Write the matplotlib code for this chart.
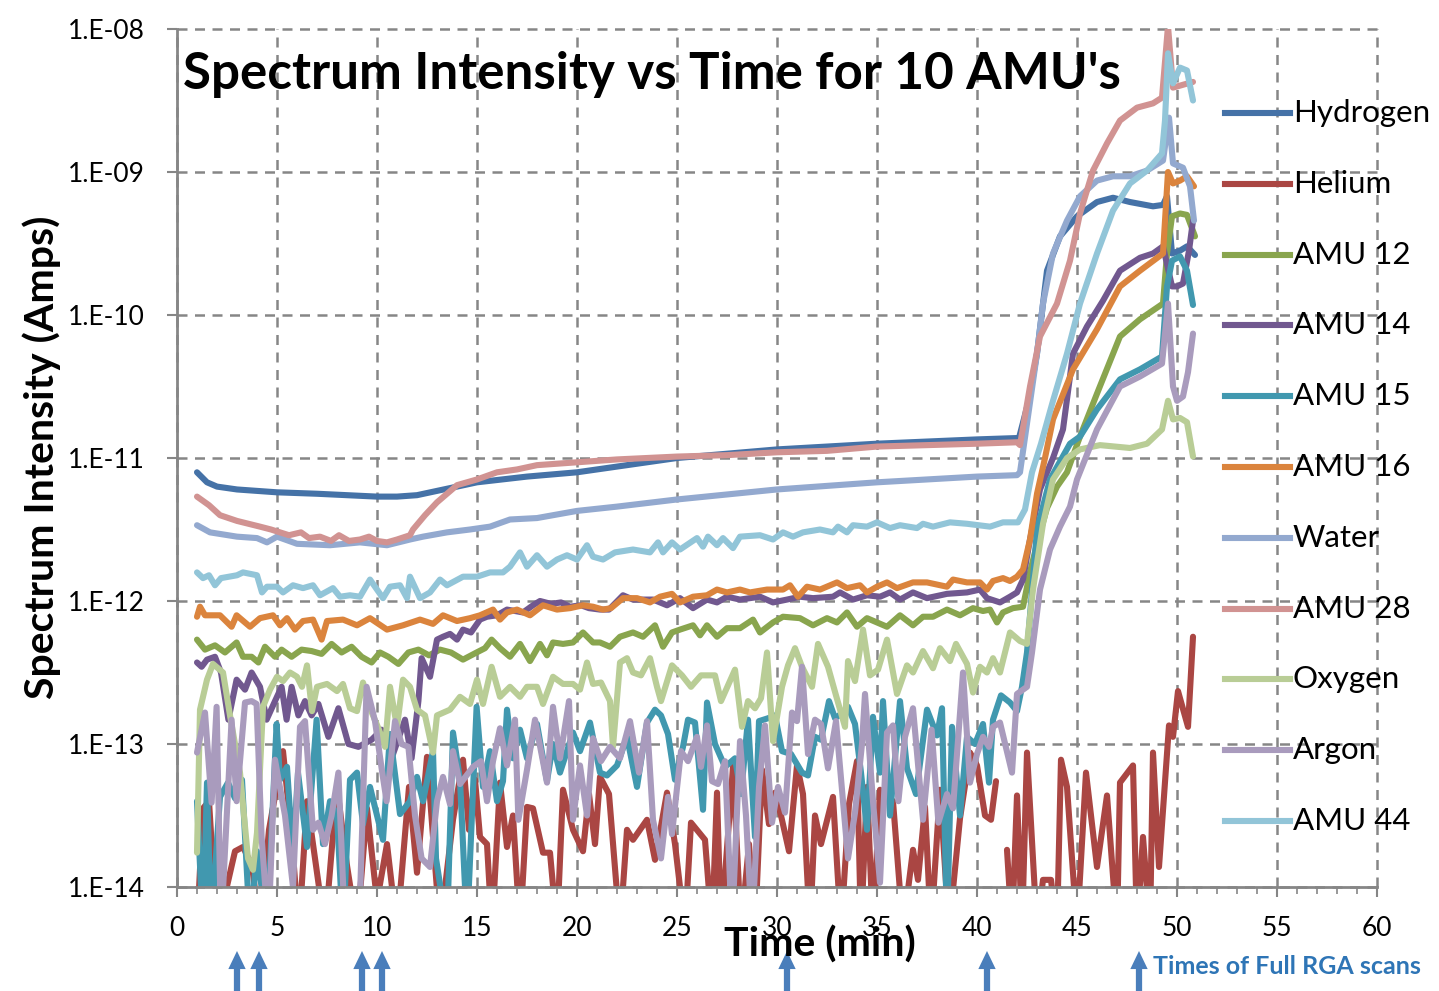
import numpy as np
import matplotlib
matplotlib.use('Agg')
import matplotlib.pyplot as plt
from matplotlib.lines import Line2D
from matplotlib.ticker import FixedLocator, FuncFormatter, MultipleLocator, NullLocator

plt.rcParams['font.family'] = ['Lato', 'DejaVu Sans']

# (time in min, log10 of current in A)
hydrogen = [(1.0, -11.10), (1.5, -11.17), (2, -11.20), (3, -11.22), (5, -11.24), (7, -11.25),
            (10, -11.27), (11, -11.27), (12, -11.26), (13, -11.23), (14, -11.20), (15, -11.17),
            (17.5, -11.13), (20, -11.10), (22, -11.06), (25, -11.00), (30, -10.94), (35, -10.90),
            (40, -10.87), (42.1, -10.86), (42.6, -10.59), (43.0, -10.27), (43.5, -9.69),
            (44.15, -9.45), (45, -9.31), (46, -9.21), (46.8, -9.18), (47.65, -9.21), (48.8, -9.24),
            (49.3, -9.23), (49.5, -9.17), (49.75, -9.57), (50.15, -9.55), (50.5, -9.52), (50.9, -9.58)]

helium = [(1.0, -14.3), (1.3, -13.45), (1.6, -13.4), (2.0, -14.3), (2.9, -13.75), (3.3, -13.72),
          (3.75, -13.85), (4.15, -14.3), (4.6, -13.6), (5.3, -13.05), (5.7, -13.6), (6.1, -14.3),
          (6.5, -13.4), (7.0, -13.9), (7.4, -14.3), (8.0, -13.3), (8.5, -13.85), (9.0, -14.3),
          (9.5, -13.45), (10.0, -14.1), (10.5, -13.7), (11.0, -14.3), (11.6, -13.3), (12.0, -13.9),
          (12.5, -13.09), (13.15, -14.3), (13.8, -13.53), (14.3, -13.11), (14.6, -13.6),
          (14.9, -13.25), (15.15, -13.65), (15.5, -13.7), (15.75, -14.3), (16.15, -13.27),
          (16.5, -13.72), (16.8, -13.5), (17.15, -14.3), (17.5, -13.44), (17.8, -13.45),
          (18.3, -13.76), (18.65, -13.76), (19.0, -14.3), (19.3, -13.32), (19.8, -13.6),
          (20.3, -13.75), (20.6, -13.35), (20.9, -13.7), (21.15, -13.23), (21.6, -13.35),
          (22.15, -14.3), (22.5, -13.6), (22.8, -13.67), (23.5, -13.53), (23.9, -13.81),
          (24.5, -13.34), (24.9, -13.7), (25.4, -14.3), (25.7, -13.55), (26.4, -13.67),
          (26.75, -14.3), (27.0, -13.34), (27.2, -14.3), (27.8, -13.16), (28.2, -14.3),
          (28.6, -13.7), (28.9, -14.3), (29.25, -13.18), (29.6, -13.56), (29.9, -13.34),
          (30.2, -13.5), (30.6, -13.75), (31.0, -13.15), (31.3, -13.35), (31.65, -14.3),
          (31.9, -13.5), (32.2, -13.7), (32.8, -13.37), (33.2, -14.3), (33.6, -13.42),
          (34.0, -13.12), (34.2, -14.3), (34.5, -13.3), (34.8, -14.3), (35.15, -13.32),
          (35.8, -13.4), (36.3, -14.3), (36.8, -13.74), (37.05, -13.95), (37.4, -13.44),
          (37.7, -14.3), (38.15, -13.32), (38.6, -14.3), (39.15, -13.52), (39.65, -13.06),
          (40.0, -13.15), (40.4, -13.5), (40.7, -13.53), (40.95, -13.26), (41.2, np.nan),
          (41.5, -13.74), (41.75, -14.3), (42.0, -13.36), (42.25, -14.3), (42.5, -13.06),
          (43.0, -14.3), (43.3, -13.95), (43.7, -13.95), (44.0, -14.3), (44.2, -13.11),
          (44.5, -13.3), (45.0, -14.3), (45.45, -13.2), (46.0, -13.86), (46.5, -13.36),
          (47.0, -14.3), (47.15, -13.27), (47.8, -13.15), (48.0, -14.3), (48.3, -13.65),
          (48.65, -14.3), (48.8, -13.06), (49.1, -13.86), (49.6, -12.87), (49.8, -12.95),
          (50.05, -12.63), (50.55, -12.88), (50.8, -12.25)]

amu12 = [(1.0, -12.27), (1.4, -12.34), (1.9, -12.31), (2.4, -12.36), (2.98, -12.29), (3.3, -12.39),
         (3.73, -12.39), (4.07, -12.43), (4.4, -12.32), (4.9, -12.39), (5.23, -12.34), (5.73, -12.39),
         (6.23, -12.34), (6.73, -12.35), (7.23, -12.37), (7.73, -12.30), (8.23, -12.36),
         (8.73, -12.32), (9.23, -12.39), (9.73, -12.43), (10.15, -12.36), (10.57, -12.39),
         (11.07, -12.44), (11.57, -12.36), (12.07, -12.34), (12.6, -12.38), (13.15, -12.34),
         (13.7, -12.36), (14.3, -12.41), (14.98, -12.36), (15.4, -12.33), (15.73, -12.27),
         (16.15, -12.33), (16.65, -12.39), (17.15, -12.30), (17.65, -12.42), (18.15, -12.30),
         (18.5, -12.38), (18.8, -12.29), (19.3, -12.30), (19.8, -12.29), (20.3, -12.22),
         (20.8, -12.29), (21.15, -12.29), (21.65, -12.32), (22.15, -12.25), (22.8, -12.22),
         (23.3, -12.25), (23.9, -12.17), (24.3, -12.32), (24.75, -12.22), (25.15, -12.20),
         (25.8, -12.17), (26.15, -12.24), (26.5, -12.17), (27.0, -12.25), (27.5, -12.19),
         (28.15, -12.19), (28.8, -12.13), (29.15, -12.22), (29.8, -12.15), (30.3, -12.11),
         (31.15, -12.12), (31.8, -12.17), (32.5, -12.12), (33.0, -12.15), (33.5, -12.08),
         (34.0, -12.18), (34.5, -12.12), (35.0, -12.15), (35.5, -12.18), (36.15, -12.10),
         (36.8, -12.17), (37.3, -12.11), (37.8, -12.11), (38.5, -12.06), (39.15, -12.10),
         (39.8, -12.05), (40.3, -12.07), (40.65, -12.06), (41.0, -12.15), (41.3, -12.08),
         (41.8, -12.05), (42.3, -12.04), (42.65, -11.80), (43.0, -11.60), (43.5, -11.35),
         (44.0, -11.20), (44.5, -11.10), (45.15, -10.85), (46.0, -10.55), (47.15, -10.15),
         (48.15, -10.03), (49.3, -9.92), (49.5, -9.57), (49.75, -9.31), (50.15, -9.29),
         (50.5, -9.30), (50.9, -9.45)]

amu14 = [(1.0, -12.43), (1.23, -12.46), (1.5, -12.41), (1.9, -12.39), (2.2, -12.50), (2.57, -12.83),
         (2.98, -12.55), (3.4, -12.62), (3.73, -12.50), (4.15, -12.60), (4.48, -12.83), (4.9, -12.70),
         (5.23, -12.60), (5.48, -12.83), (5.73, -12.60), (6.07, -12.80), (6.4, -12.70), (6.73, -12.80),
         (7.07, -12.72), (7.57, -12.95), (8.07, -12.75), (8.57, -13.00), (9.07, -13.02),
         (9.73, -12.97), (10.23, -12.90), (10.57, -13.00), (10.73, -13.10), (11.4, -12.83),
         (11.73, -13.10), (12.07, -12.70), (12.23, -12.40), (12.65, -12.53), (13.0, -12.27),
         (13.3, -12.25), (13.65, -12.23), (14.0, -12.27), (14.3, -12.20), (14.7, -12.22),
         (15.15, -12.13), (15.5, -12.11), (16.0, -12.10), (16.5, -12.06), (17.3, -12.08),
         (17.8, -12.03), (18.15, -12.00), (18.7, -12.02), (19.2, -12.01), (19.65, -12.04),
         (20.2, -12.03), (20.6, -12.05), (21.15, -12.06), (21.6, -12.06), (22.3, -11.96),
         (22.8, -11.99), (23.8, -11.99), (24.5, -12.03), (25.15, -11.98), (25.8, -12.05),
         (26.5, -11.99), (27.0, -12.01), (27.5, -11.97), (28.15, -11.99), (29.15, -11.97),
         (29.8, -12.01), (30.5, -11.99), (31.15, -11.97), (31.8, -11.98), (32.8, -11.97),
         (33.15, -11.94), (33.8, -11.99), (34.5, -11.96), (35.15, -11.97), (35.65, -11.94),
         (36.15, -11.99), (36.8, -11.94), (37.5, -11.98), (38.5, -11.95), (39.5, -11.94),
         (40.15, -11.92), (40.5, -11.98), (41.15, -12.01), (41.65, -11.97), (42.0, -11.94),
         (42.3, -11.85), (42.65, -11.57), (43.15, -11.22), (43.5, -11.10), (43.8, -11.00),
         (44.3, -10.80), (44.8, -10.27), (45.5, -10.08), (46.3, -9.90), (47.15, -9.69),
         (48.15, -9.60), (48.8, -9.57), (49.3, -9.52), (49.75, -9.80), (50.0, -9.80),
         (50.3, -9.78), (50.6, -9.55), (50.8, -9.34)]

amu15 = [(1.0, -13.4), (1.3, -14.3), (1.5, -13.27), (1.7, -14.3), (2.15, -13.37), (2.55, -13.27),
         (2.9, -13.38), (3.25, -13.25), (3.65, -14.3), (4.0, -13.75), (4.5, -14.3), (4.98, -12.86),
         (5.15, -13.25), (5.5, -13.16), (5.8, -13.79), (6.05, -13.2), (6.5, -13.72), (6.98, -12.83),
         (7.3, -13.7), (7.65, -13.4), (8.0, -13.5), (8.3, -14.3), (8.65, -13.25), (9.0, -13.2),
         (9.3, -13.56), (9.65, -13.3), (10.3, -13.67), (10.65, -12.93), (11.15, -13.49),
         (11.65, -13.4), (12.0, -13.23), (12.3, -13.4), (12.8, -13.05), (12.95, -13.8),
         (13.5, -14.3), (13.8, -12.92), (14.15, -13.25), (14.5, -14.3), (14.98, -12.74),
         (15.3, -13.3), (15.65, -13.05), (16.0, -13.4), (16.3, -13.26), (16.5, -12.76),
         (16.8, -13.1), (17.15, -12.9), (17.5, -13.1), (18.0, -12.86), (18.5, -13.26),
         (18.8, -13.0), (19.15, -13.2), (19.8, -12.92), (20.15, -13.05), (20.65, -12.85),
         (21.15, -13.2), (21.5, -13.22), (22.0, -13.15), (22.5, -12.95), (23.0, -13.3),
         (23.5, -12.85), (23.9, -12.76), (24.2, -12.8), (24.55, -12.93), (24.9, -13.25),
         (25.3, -13.02), (25.55, -12.83), (25.9, -12.85), (26.3, -13.46), (26.5, -12.71),
         (26.9, -13.0), (27.4, -13.16), (27.9, -13.1), (28.2, -13.35), (28.55, -12.83),
         (28.9, -13.65), (29.1, -12.84), (29.55, -12.82), (29.9, -12.8), (30.25, -13.05),
         (30.7, -13.07), (31.25, -13.2), (31.55, -13.22), (31.9, -12.95), (32.2, -12.97),
         (32.6, -12.7), (32.9, -12.82), (33.2, -12.79), (33.55, -12.74), (33.9, -12.86),
         (34.2, -13.2), (34.5, -13.6), (34.8, -12.81), (35.15, -13.2), (35.3, -12.7),
         (35.65, -13.5), (36.15, -12.7), (36.5, -13.17), (36.95, -13.35), (37.5, -12.76),
         (38.0, -12.94), (38.25, -12.75), (38.5, -14.3), (38.75, -12.88), (39.15, -13.5),
         (39.5, -12.95), (39.9, -13.0), (40.3, -12.86), (40.6, -13.27), (40.8, -12.83),
         (41.2, -12.66), (41.65, -12.71), (42.0, -12.77), (42.25, -12.6), (42.5, -12.36),
         (43.0, -11.5), (43.65, -11.15), (44.65, -10.9), (45.15, -10.85), (46.0, -10.66),
         (47.15, -10.45), (48.15, -10.38), (49.25, -10.29), (49.5, -9.8), (49.75, -9.62),
         (50.15, -9.59), (50.5, -9.69), (50.8, -9.93)]

amu16 = [(1.0, -12.11), (1.15, -12.04), (1.4, -12.10), (2.15, -12.10), (2.73, -12.18), (2.98, -12.10),
         (3.65, -12.18), (4.15, -12.12), (4.8, -12.10), (5.15, -12.17), (5.5, -12.12), (5.9, -12.20),
         (6.3, -12.14), (6.8, -12.13), (7.23, -12.27), (7.5, -12.14), (8.3, -12.13), (9.0, -12.17),
         (9.65, -12.12), (10.5, -12.20), (11.3, -12.17), (12.15, -12.13), (12.8, -12.16),
         (13.3, -12.10), (14.0, -12.14), (14.65, -12.12), (15.15, -12.10), (15.8, -12.06),
         (16.15, -12.13), (16.5, -12.08), (17.0, -12.06), (17.65, -12.10), (18.3, -12.03),
         (19.0, -12.06), (19.65, -12.05), (20.3, -12.03), (20.8, -12.04), (21.3, -12.06),
         (21.7, -12.05), (22.3, -11.98), (23.0, -11.98), (23.65, -12.01), (24.15, -11.97),
         (24.75, -11.95), (25.15, -12.01), (25.8, -11.97), (26.5, -11.96), (27.0, -11.92),
         (27.5, -11.94), (28.15, -11.92), (28.65, -11.94), (29.5, -11.92), (30.3, -11.92),
         (30.65, -11.89), (31.05, -11.97), (31.5, -11.90), (32.15, -11.92), (33.0, -11.87),
         (33.5, -11.91), (34.15, -11.89), (34.5, -11.94), (35.0, -11.90), (35.5, -11.87),
         (36.0, -11.91), (36.8, -11.87), (37.5, -11.87), (38.5, -11.90), (38.8, -11.85),
         (39.5, -11.87), (40.15, -11.87), (40.5, -11.92), (40.8, -11.86), (41.3, -11.84),
         (41.65, -11.86), (42.0, -11.83), (42.3, -11.78), (42.65, -11.57), (43.0, -11.25),
         (43.4, -11.00), (43.8, -10.73), (44.8, -10.38), (46.0, -10.10), (47.15, -9.80),
         (48.15, -9.69), (49.3, -9.57), (49.55, -9.00), (49.8, -9.08), (50.15, -9.06),
         (50.5, -9.03), (50.85, -9.10)]

water = [(1.0, -11.47), (1.65, -11.52), (3.0, -11.55), (4.0, -11.56), (4.5, -11.59), (5.0, -11.55),
         (6.0, -11.60), (7.65, -11.61), (9.15, -11.59), (10.5, -11.61), (11.65, -11.57),
         (12.3, -11.55), (13.5, -11.52), (14.65, -11.50), (15.65, -11.48), (16.65, -11.43),
         (18.0, -11.42), (20.0, -11.37), (22.0, -11.34), (25.0, -11.29), (30.0, -11.22),
         (35.0, -11.17), (40.0, -11.13), (42.0, -11.12), (42.15, -11.10), (43.0, -10.27),
         (43.3, -9.92), (43.8, -9.57), (44.5, -9.34), (45.15, -9.17), (46.0, -9.06),
         (46.8, -9.03), (47.65, -9.03), (48.5, -8.99), (49.3, -8.92), (49.6, -8.62),
         (49.8, -8.94), (50.3, -8.97), (50.65, -9.10), (50.85, -9.34)]

amu28 = [(1.0, -11.27), (1.6, -11.33), (2.15, -11.40), (3.0, -11.44), (4.15, -11.48), (4.7, -11.50),
         (5.15, -11.52), (5.6, -11.54), (6.2, -11.52), (6.6, -11.56), (7.15, -11.55), (7.7, -11.58),
         (8.1, -11.54), (8.6, -11.58), (9.15, -11.57), (9.6, -11.55), (10.0, -11.58),
         (10.5, -11.59), (11.0, -11.57), (11.65, -11.54), (11.8, -11.50), (12.4, -11.40),
         (13.0, -11.31), (14.0, -11.19), (15.0, -11.15), (16.0, -11.10), (17.0, -11.08),
         (18.0, -11.05), (19.0, -11.04), (20.0, -11.03), (22.0, -11.01), (25.0, -10.99),
         (27.5, -10.98), (30.0, -10.96), (32.5, -10.95), (35.0, -10.92), (37.5, -10.91),
         (40.0, -10.90), (42.0, -10.89), (42.15, -10.91), (42.65, -10.50), (43.15, -10.15),
         (44.0, -9.92), (44.65, -9.62), (45.15, -9.29), (45.8, -8.99), (46.5, -8.80),
         (47.15, -8.64), (48.0, -8.55), (48.8, -8.52), (49.25, -8.48), (49.55, -7.98),
         (49.8, -8.41), (50.8, -8.37)]

oxygen = [(1.0, -13.76), (1.15, -12.76), (1.5, -12.55), (1.8, -12.44), (2.3, -12.50), (2.65, -12.80),
          (3.15, -13.20), (3.55, -13.80), (3.8, -13.88), (4.0, -13.62), (4.3, -12.74), (4.65, -12.62),
          (5.0, -12.53), (5.3, -12.56), (5.65, -12.50), (6.0, -12.53), (6.25, -12.60), (6.5, -12.45),
          (6.75, -12.77), (7.0, -12.60), (7.5, -12.58), (8.0, -12.63), (8.3, -12.58), (8.65, -12.75),
          (9.0, -12.77), (9.3, -12.57), (9.65, -12.75), (10.1, -12.90), (10.4, -13.02),
          (10.65, -12.60), (11.0, -12.88), (11.3, -12.55), (11.65, -12.60), (12.0, -12.76),
          (12.4, -12.80), (12.8, -13.06), (13.0, -12.80), (13.65, -12.76), (14.15, -12.67),
          (14.65, -12.72), (15.0, -12.55), (15.3, -12.72), (15.73, -12.46), (16.15, -12.67),
          (16.65, -12.60), (17.15, -12.67), (17.5, -12.60), (18.0, -12.60), (18.3, -12.72),
          (18.8, -12.53), (19.3, -12.58), (19.8, -12.58), (20.15, -12.62), (20.5, -12.43),
          (20.8, -12.58), (21.2, -12.57), (21.65, -12.70), (21.8, -13.02), (22.15, -12.43),
          (22.5, -12.40), (22.8, -12.50), (23.2, -12.52), (23.65, -12.40), (24.0, -12.60),
          (24.2, -12.70), (24.75, -12.45), (25.25, -12.52), (25.7, -12.60), (26.2, -12.52),
          (26.9, -12.52), (27.2, -12.70), (27.9, -12.48), (28.25, -12.88), (28.55, -12.70),
          (28.9, -12.75), (29.2, -12.68), (29.5, -12.36), (29.8, -12.98), (30.25, -12.60),
          (30.55, -12.45), (30.9, -12.33), (31.25, -12.46), (31.75, -12.60), (32.05, -12.30),
          (32.55, -12.46), (32.95, -12.66), (33.4, -12.88), (33.55, -12.42), (33.9, -12.56),
          (34.3, -12.20), (34.65, -12.52), (35.05, -12.48), (35.5, -12.27), (36.0, -12.65),
          (36.5, -12.45), (36.8, -12.50), (37.3, -12.35), (37.8, -12.47), (38.15, -12.33),
          (38.65, -12.42), (38.95, -12.30), (39.5, -12.44), (39.8, -12.64), (40.15, -12.46),
          (40.5, -12.50), (40.8, -12.40), (41.15, -12.50), (41.65, -12.22), (42.15, -12.28),
          (42.5, -12.30), (42.8, -11.92), (43.3, -11.46), (43.8, -11.15), (44.5, -11.00),
          (45.15, -10.94), (46.15, -10.91), (47.65, -10.93), (48.5, -10.90), (49.25, -10.80),
          (49.55, -10.60), (49.8, -10.73), (50.15, -10.72), (50.5, -10.75), (50.8, -10.99)]

argon = [(1.0, -13.06), (1.4, -12.78), (1.73, -13.41), (1.98, -12.74), (2.2, -14.3), (2.73, -12.83),
         (2.98, -13.40), (3.4, -12.71), (3.73, -12.70), (3.98, -12.72), (4.23, -13.65), (4.57, -14.3),
         (4.9, -13.11), (5.4, -13.50), (5.8, -14.0), (6.15, -12.88), (6.4, -12.84), (6.8, -13.6),
         (7.07, -13.55), (7.4, -13.70), (7.73, -13.50), (8.07, -13.20), (8.4, -14.3), (8.73, -14.1),
         (9.1, -14.3), (9.48, -12.60), (9.9, -12.84), (10.23, -13.17), (10.48, -13.40),
         (10.9, -12.84), (11.23, -13.00), (11.57, -13.02), (11.9, -13.50), (12.23, -13.80),
         (12.65, -13.86), (13.0, -13.40), (13.3, -13.23), (13.65, -13.42), (13.8, -13.05),
         (14.15, -13.28), (14.8, -13.16), (15.2, -13.12), (15.5, -13.40), (15.8, -13.12),
         (16.15, -12.89), (16.5, -13.15), (16.9, -12.83), (17.07, -13.53), (17.5, -13.18),
         (17.9, -12.83), (18.5, -13.27), (18.8, -12.74), (19.15, -13.10), (19.6, -12.70),
         (19.8, -13.53), (20.15, -13.15), (20.5, -13.50), (20.8, -12.96), (21.2, -13.12),
         (21.65, -13.02), (22.15, -13.10), (22.65, -12.84), (23.1, -13.2), (23.5, -12.84),
         (23.8, -13.53), (24.2, -13.80), (24.55, -13.37), (24.75, -13.63), (25.2, -13.05),
         (25.55, -13.12), (26.0, -12.95), (26.2, -13.16), (26.5, -12.87), (26.75, -13.26),
         (27.05, -13.28), (27.4, -13.12), (27.75, -14.3), (28.15, -12.98), (28.45, -13.5),
         (28.75, -14.3), (29.1, -13.3), (29.4, -12.87), (29.75, -13.55), (30.05, -13.30),
         (30.4, -13.48), (30.75, -12.78), (31.0, -12.84), (31.25, -12.46), (31.55, -13.07),
         (31.9, -12.83), (32.2, -12.86), (32.55, -13.17), (32.95, -12.84), (33.3, -13.40),
         (33.55, -13.80), (33.9, -13.48), (34.25, -13.00), (34.4, -12.65), (34.8, -13.40),
         (35.15, -13.97), (35.5, -12.92), (35.8, -12.87), (36.07, -13.40), (36.4, -12.95),
         (36.8, -12.75), (37.3, -13.53), (37.73, -12.90), (38.07, -13.55), (38.5, -13.35),
         (38.8, -13.45), (39.3, -12.50), (39.65, -13.27), (40.0, -13.07), (40.3, -12.95),
         (40.6, -13.02), (40.8, -12.88), (41.15, -12.85), (41.75, -13.20), (42.0, -12.65),
         (42.5, -12.60), (42.75, -12.36), (43.15, -11.92), (43.65, -11.64), (44.15, -11.48),
         (44.65, -11.34), (45.0, -11.15), (46.0, -10.80), (47.15, -10.50), (48.15, -10.43),
         (49.25, -10.34), (49.55, -9.92), (49.8, -10.50), (50.0, -10.60), (50.3, -10.57),
         (50.55, -10.40), (50.8, -10.13)]

amu44 = [(1.0, -11.80), (1.3, -11.84), (1.6, -11.82), (1.9, -11.89), (2.2, -11.84), (3.0, -11.82),
         (3.3, -11.80), (4.0, -11.82), (4.25, -11.94), (4.5, -11.90), (5.0, -11.90), (5.3, -11.94),
         (5.8, -11.89), (6.3, -11.91), (6.8, -11.89), (7.15, -11.96), (7.8, -11.91), (8.15, -11.97),
         (8.65, -11.96), (9.15, -11.97), (9.65, -11.85), (10.3, -11.98), (10.65, -11.90),
         (11.15, -11.89), (11.5, -11.98), (11.65, -11.83), (12.15, -11.98), (12.65, -11.94),
         (13.15, -11.85), (13.5, -11.89), (14.3, -11.83), (15.0, -11.83), (15.65, -11.80),
         (16.3, -11.80), (16.65, -11.76), (17.15, -11.66), (17.5, -11.76), (18.0, -11.68),
         (18.5, -11.76), (19.0, -11.71), (19.5, -11.68), (20.0, -11.71), (20.5, -11.61),
         (20.8, -11.69), (21.3, -11.71), (21.9, -11.66), (22.8, -11.64), (23.65, -11.66),
         (24.05, -11.59), (24.3, -11.66), (24.75, -11.59), (25.15, -11.64), (26.0, -11.56),
         (26.3, -11.62), (26.55, -11.55), (27.0, -11.61), (27.3, -11.56), (27.8, -11.63),
         (28.15, -11.55), (29.15, -11.54), (29.8, -11.57), (30.3, -11.52), (30.8, -11.55),
         (31.3, -11.52), (32.15, -11.50), (32.8, -11.52), (33.05, -11.48), (33.5, -11.52),
         (33.8, -11.47), (34.5, -11.48), (35.0, -11.45), (35.65, -11.49), (36.15, -11.47),
         (37.0, -11.49), (37.3, -11.46), (37.8, -11.48), (38.65, -11.45), (39.5, -11.46),
         (40.65, -11.48), (41.3, -11.45), (42.05, -11.45), (42.4, -11.36), (42.75, -11.10),
         (43.2, -10.90), (43.8, -10.60), (44.5, -10.27), (45.15, -9.92), (46.0, -9.57),
         (46.8, -9.27), (47.65, -9.08), (48.5, -8.99), (49.25, -8.87), (49.4, -8.64),
         (49.55, -8.17), (49.8, -8.38), (50.15, -8.27), (50.5, -8.29), (50.8, -8.50)]

series_names = ['Hydrogen', 'Helium', 'AMU 12', 'AMU 14', 'AMU 15', 'AMU 16',
                'Water', 'AMU 28', 'Oxygen', 'Argon', 'AMU 44']
series_data = [hydrogen, helium, amu12, amu14, amu15, amu16,
               water, amu28, oxygen, argon, amu44]
series_colors = ['#4572A7', '#AA4643', '#89A54E', '#71588F', '#4198AF', '#DB843D',
                 '#93A9CF', '#D19392', '#B9CD96', '#A99BBD', '#92C5D8']

# minutes at which a full RGA scan was taken (arrows under the axis)
scan_times = [3.0, 4.1, 9.25, 10.25, 30.5, 40.5, 48.1]

W, H = 1439, 991
fig = plt.figure(figsize=(W / 100, H / 100), dpi=100)
fig.patch.set_facecolor('white')
ax = fig.add_axes([177 / W, 1 - 887 / H, 1200 / W, 858 / H])

for name, data, col in zip(series_names, series_data, series_colors):
    t, e = np.array(data, dtype=float).T
    ax.plot(t, 10.0 ** e, color=col, lw=4.4, solid_joinstyle='round',
            solid_capstyle='round', label=name)

ax.set_yscale('log')
ax.set_xlim(0, 60)
ax.set_ylim(1e-14, 1e-8)
ax.xaxis.set_major_locator(MultipleLocator(5))
ax.xaxis.set_minor_locator(MultipleLocator(1))
ax.yaxis.set_major_locator(FixedLocator(10.0 ** np.arange(-14, -7)))
ax.yaxis.set_minor_locator(NullLocator())
ax.yaxis.set_major_formatter(FuncFormatter(lambda v, p: f'1.E{int(round(np.log10(v))):+03d}'))

grey = '#868686'
ax.grid(True, which='major', color=grey, ls=(0, (4, 3)), lw=1.8)
for g in ax.get_xgridlines() + ax.get_ygridlines():
    g.set_clip_on(False)
for s in ('top', 'right'):
    ax.spines[s].set_visible(False)
for s in ('left', 'bottom'):
    ax.spines[s].set_color(grey)
    ax.spines[s].set_linewidth(2)
ax.tick_params(which='major', direction='out', length=7, width=1.5, color=grey,
               labelsize=19, labelcolor='black')
ax.tick_params(axis='x', which='minor', direction='out', length=5, width=1.2, color=grey)
ax.tick_params(axis='x', which='major', pad=14)
ax.tick_params(axis='y', which='major', pad=16)

# title and axis labels
fig.text(183 / W, 1 - 75 / H, "Spectrum Intensity vs Time for 10 AMU's",
         fontsize=36.8, fontweight='bold', ha='left', va='center')
fig.text(820 / W, 1 - 945 / H, 'Time (min)', fontsize=29.5, fontweight='bold',
         ha='center', va='center')
fig.text(42 / W, 1 - 457 / H, 'Spectrum Intensity (Amps)', fontsize=29.5,
         fontweight='bold', rotation=90, ha='center', va='center')

# legend drawn on the right, over the plot area
for i, (name, col) in enumerate(zip(series_names, series_colors)):
    yy = 1 - (113 + i * 70.8) / H
    fig.add_artist(Line2D([1225 / W, 1290 / W], [yy, yy], transform=fig.transFigure,
                          color=col, lw=4.4))
    fig.text(1293 / W, yy, name, fontsize=22.5, ha='left', va='center')

# scan markers
for t in scan_times:
    ax.annotate('', xy=(t, 1 - 951 / H), xycoords=('data', 'figure fraction'),
                xytext=(t, 0.0), textcoords=('data', 'figure fraction'),
                annotation_clip=False,
                arrowprops=dict(arrowstyle='simple,head_length=1.3,head_width=1.25,tail_width=0.45',
                                mutation_scale=10, color='#4A7EBB', lw=0,
                                shrinkA=0, shrinkB=0))
fig.text(1153 / W, 1 - 966 / H, 'Times of Full RGA scans', fontsize=18,
         fontweight='bold', color='#2E75B6', ha='left', va='center')

fig.savefig('out.png', dpi=100, facecolor='white')
